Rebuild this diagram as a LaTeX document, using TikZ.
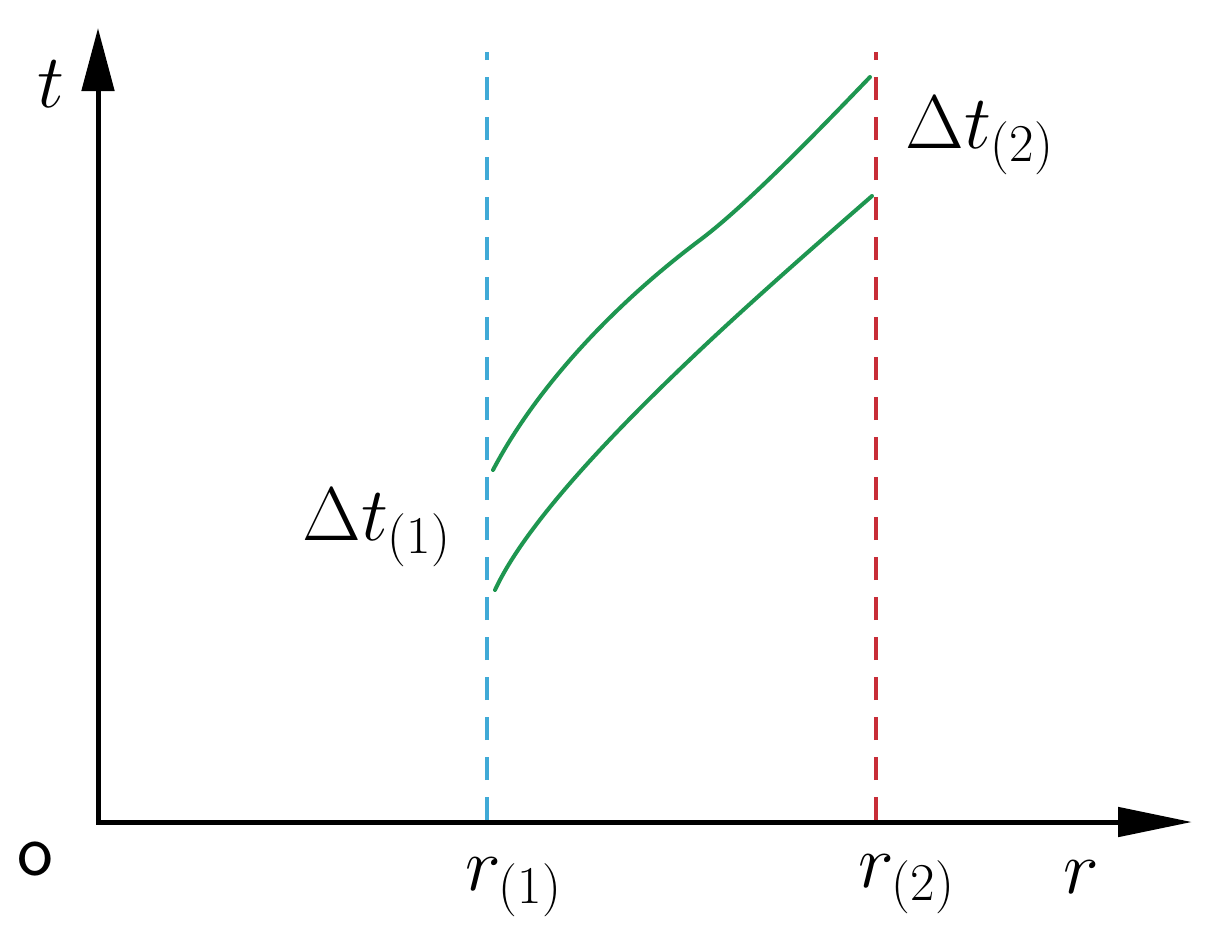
\RequirePackage{fix-cm}
\documentclass[tikz,border=0pt]{standalone}
\usetikzlibrary{arrows.meta}
\definecolor{axblue}{RGB}{64,170,215}
\definecolor{axred}{RGB}{200,45,55}
\definecolor{crvgreen}{RGB}{30,150,80}
\tikzset{
  axisline/.style={line width=2.5pt, line join=miter,
    arrows={Triangle[length=31.5pt,width=16pt]-Triangle[length=37pt,width=14.5pt]}},
  guide/.style={line width=2pt, dash pattern=on 11.5pt off 8.5pt},
  curve/.style={crvgreen, line width=2pt, line cap=round},
  lab/.style={inner sep=0pt, anchor=base west, font=\fontsize{38}{40}\selectfont},
}
\begin{document}
\begin{tikzpicture}[x=0.5pt,y=-0.5pt]
\useasboundingbox (0,0) rectangle (1214,939);
\coordinate (O) at (98,822);
\coordinate (ytip) at (98,28);
\coordinate (xtip) at (1192,822);
\coordinate (b0) at (487,820);
\coordinate (b1) at (487,52);
\coordinate (r0) at (876,820);
\coordinate (r1) at (876,52);
\coordinate (u0) at (493,470);
\coordinate (um) at (700,240);
\coordinate (u1) at (870,77);
\coordinate (l0) at (495,590);
\coordinate (lm) at (700,350);
\coordinate (l1) at (872,196);
% guides
\draw[guide, axblue] (b0) -- (b1);
\draw[guide, axred] (r0) -- (r1);
% curves
\draw[curve] (u0) .. controls (535,390) and (610,307.5) .. (um)
  .. controls (740,210) and (800,150) .. (u1);
\draw[curve] (l0) .. controls (525,525) and (610,435) .. (lm)
  .. controls (750,302.8) and (810,250) .. (l1);
% axes
\draw[axisline] (ytip) -- (O) -- (xtip);
% labels
\node[lab] (tl) at (37,107) {$t$};
\node[lab] (rl) at (1063,893) {$r$};
\node[lab] (r1l) at (465,890) {$r_{(1)}$};
\node[lab] (r2l) at (858,887) {$r_{(2)}$};
\node[lab] (d1) at (302,540) {$\Delta t_{(1)}$};
\node[lab] (d2) at (905,148) {$\Delta t_{(2)}$};
\node[inner sep=0pt, font=\fontsize{38}{40}\selectfont\sffamily] (ol) at (35,859) {o};
\end{tikzpicture}
\end{document}
